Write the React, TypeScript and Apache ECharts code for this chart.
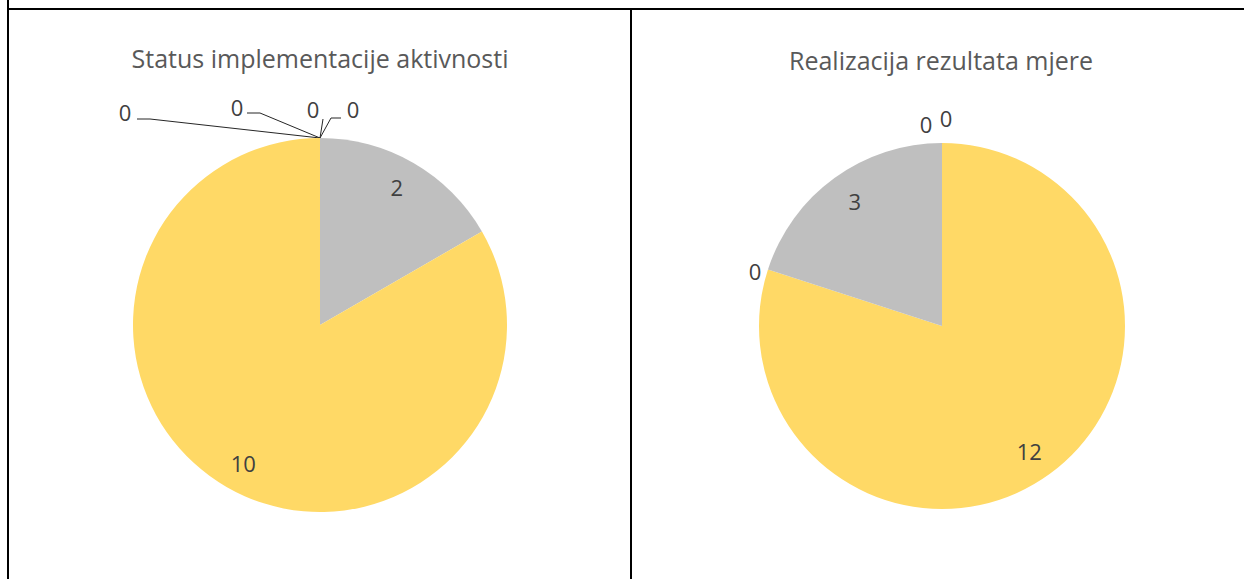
import React, { useEffect, useRef } from "react";
import * as echarts from "echarts";

// ---- data ----
const leftTitle = "Status implementacije aktivnosti";
const rightTitle = "Realizacija rezultata mjere";

const leftCategories = ["Kategorija A", "Kategorija B", "Kategorija C", "Kategorija D", "Kategorija E", "Kategorija F"];
const leftValues = [2, 10, 0, 0, 0, 0];

const rightCategories = ["Kategorija 1", "Kategorija 2", "Kategorija 3", "Kategorija 4", "Kategorija 5"];
const rightValues = [12, 0, 3, 0, 0];

// ---- styles ----
const leftColors = ["#BFBFBF", "#FFD966", "#8FAADC", "#F4B183", "#A9D18E", "#9DC3E6"];
const rightColors = ["#FFD966", "#F4B183", "#BFBFBF", "#8FAADC", "#A9D18E"];

const LEFT_CENTER = [320, 325];
const LEFT_R = 187;
const RIGHT_CENTER = [942, 326];
const RIGHT_R = 183;

const FONT = "'Open Sans', 'Noto Sans', sans-serif";
const TITLE_FS = 25;
const FS = 22;

// positions of the zero-value outside labels (label placement only)
const leftZeroLabelPos: Record<number, { x: number; y: number; line: number[][] }> = {
  2: { x: 125, y: 112, line: [[320, 138], [150, 119], [137, 119]] },
  3: { x: 237, y: 107, line: [[320, 138], [260, 113], [247, 113]] },
  4: { x: 313, y: 109, line: [[320, 138], [323, 119]] },
  5: { x: 353, y: 109, line: [[320, 138], [331, 118], [341, 118]] },
};
const rightZeroLabelPos: Record<number, { x: number; y: number }> = {
  1: { x: 755, y: 271 },
  3: { x: 926, y: 124 },
  4: { x: 946, y: 118 },
};

function mainData(cats: string[], vals: number[], colors: string[]) {
  return cats.map((name, i) => ({
    name,
    value: vals[i],
    itemStyle: { color: colors[i] },
    label: { show: vals[i] === 0 },
  }));
}
function overlayData(cats: string[], vals: number[]) {
  return cats.map((name, i) => ({
    name,
    value: vals[i],
    label: { show: vals[i] > 0 },
  }));
}

export default function App() {
  const ref = useRef<HTMLDivElement>(null);
  useEffect(() => {
    if (!ref.current) return;
    const chart = echarts.init(ref.current, undefined, { renderer: "svg" });
    const labelText = { fontFamily: FONT, fontSize: FS, color: "#404040" };
    const titleStyle = { fontFamily: FONT, fontSize: TITLE_FS, fontWeight: "normal", color: "#595959" };
    chart.setOption({
      animation: false,
      backgroundColor: "#ffffff",
      title: [
        { text: leftTitle, left: 315, top: 40, textAlign: "center", textStyle: titleStyle },
        { text: rightTitle, left: 936, top: 42, textAlign: "center", textStyle: titleStyle },
      ],
      graphic: [
        { type: "line", shape: { x1: 8, y1: 0, x2: 8, y2: 579 }, style: { stroke: "#000", lineWidth: 2 } },
        { type: "line", shape: { x1: 8, y1: 9, x2: 1244, y2: 9 }, style: { stroke: "#000", lineWidth: 2 } },
        { type: "line", shape: { x1: 631, y1: 9, x2: 631, y2: 579 }, style: { stroke: "#000", lineWidth: 2 } },
      ],
      series: [
        {
          type: "pie",
          center: LEFT_CENTER,
          radius: [0, LEFT_R],
          startAngle: 90,
          clockwise: true,
          avoidLabelOverlap: false,
          data: mainData(leftCategories, leftValues, leftColors),
          label: { position: "outside", formatter: "{c}", ...labelText },
          labelLine: { show: true, lineStyle: { color: "#262626", width: 1 } },
          labelLayout: (p: any) => {
            const pos = leftZeroLabelPos[p.dataIndex];
            if (!pos) return {};
            return { x: pos.x, y: pos.y, align: "center", verticalAlign: "middle", labelLinePoints: pos.line };
          },
        },
        {
          type: "pie",
          center: LEFT_CENTER,
          radius: [LEFT_R * 0.66, LEFT_R],
          startAngle: 91,
          silent: true,
          z: 5,
          itemStyle: { color: "rgba(0,0,0,0)" },
          data: overlayData(leftCategories, leftValues),
          label: { position: "inside", formatter: "{c}", ...labelText },
          labelLine: { show: false },
        },
        {
          type: "pie",
          center: RIGHT_CENTER,
          radius: [0, RIGHT_R],
          startAngle: 90,
          clockwise: true,
          avoidLabelOverlap: false,
          data: mainData(rightCategories, rightValues, rightColors),
          label: { position: "outside", formatter: "{c}", ...labelText },
          labelLine: { show: false },
          labelLayout: (p: any) => {
            const pos = rightZeroLabelPos[p.dataIndex];
            if (!pos) return {};
            return { x: pos.x, y: pos.y, align: "center", verticalAlign: "middle" };
          },
        },
        {
          type: "pie",
          center: RIGHT_CENTER,
          radius: [RIGHT_R * 0.63, RIGHT_R],
          startAngle: 89,
          silent: true,
          z: 5,
          itemStyle: { color: "rgba(0,0,0,0)" },
          data: overlayData(rightCategories, rightValues),
          label: { position: "inside", formatter: "{c}", ...labelText },
          labelLine: { show: false },
        },
      ],
    });
    return () => chart.dispose();
  }, []);
  return (
    <div
      ref={ref}
      style={{ position: "fixed", left: 0, top: 0, width: 1244, height: 579, background: "#fff" }}
    />
  );
}
